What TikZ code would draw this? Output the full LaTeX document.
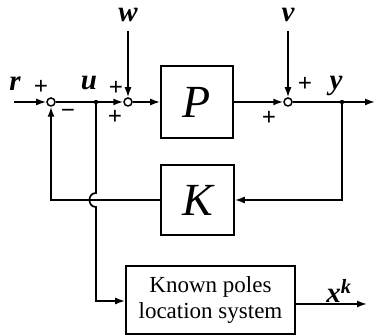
\documentclass[tikz,border=0pt]{standalone}
\usepackage{fontspec}
\setmainfont{Liberation Serif}
\usetikzlibrary{arrows.meta}
\begin{document}
\begin{tikzpicture}[x=1pt,y=-1pt, line width=1.7pt,
 sumnode/.style={circle,draw,inner sep=0pt,minimum size=8pt,line width=1.5pt,fill=white},
 blk/.style={draw,line width=1.6pt,inner sep=0pt},
 arr/.style={-{Latex[length=10pt,width=7pt]}},
 sig/.style={font=\fontsize{25}{25}\selectfont\bfseries},
 lab/.style={font=\fontsize{29}{29}\selectfont\bfseries\itshape},
 big/.style={font=\fontsize{46}{46}\selectfont\itshape},
 dotn/.style={circle,fill,inner sep=0pt,minimum size=4pt}]
\useasboundingbox (0,0) rectangle (376,336);
% nodes
\coordinate (rin) at (14,102);
\node[sumnode] (s1) at (51,102) {};
\coordinate (uj) at (96,102);
\node[sumnode] (s2) at (128,102) {};
\node[blk,minimum width=72pt,minimum height=72pt,big] (P) at (197,102) {P};
\node[sumnode] (s3) at (288,102) {};
\coordinate (yj) at (342,102);
\coordinate (yout) at (375,102);
\coordinate (wtop) at (128,31);
\coordinate (vtop) at (288,31);
\node[blk,minimum width=73pt,minimum height=70pt,big] (K) at (197.5,200) {K};
\coordinate (fbR) at (342,200);
\coordinate (fbL) at (51,200);
\coordinate (hopA) at (96,193);
\coordinate (hopB) at (96,207);
\coordinate (ucorner) at (96,301);
\node[blk,minimum width=169pt,minimum height=68pt,align=center,font=\fontsize{23}{26}\selectfont] (kn) at (210.5,300) {Known poles\\location system};
\coordinate (xout) at (367,304);
% connectors
\draw[arr] (rin) -- (s1);
\draw (s1) -- (uj);
\draw[arr] (uj) -- (s2);
\draw[arr] (s2) -- (P);
\draw[arr] (P) -- (s3);
\draw (s3) -- (yj);
\draw[arr] (yj) -- (yout);
\draw[arr] (wtop) -- (s2);
\draw[arr] (vtop) -- (s3);
\draw[arr] (yj) -- (fbR) -- (K);
\draw[arr] (K) -- (fbL) -- (s1);
\draw[arr] (uj) -- (hopA) to[out=180,in=180,looseness=1.6] (hopB) -- (ucorner) -- (kn.west |- ucorner);
\draw[arr] (kn.east |- xout) -- (xout);
\fill (uj) circle (2.2pt);
\fill (yj) circle (2.2pt);
% signs
\node[sig] (p1) at (41,87) {+};
\node[sig] (m1) at (68,114) {−};
\node[sig] (p2) at (116,88) {+};
\node[sig] (p3) at (115,117) {+};
\node[sig] (p4) at (305,84) {+};
\node[sig] (p5) at (269,118) {+};
% labels
\node[lab] (lr) at (15,84) {r};
\node[lab] (lu) at (89,83) {u};
\node[lab] (lw) at (128,15) {w};
\node[lab] (lv) at (288,15) {v};
\node[lab] (ly) at (336,86) {y};
\node[lab] (lx) at (339,291) {x\textsuperscript{k}};
\end{tikzpicture}
\end{document}
